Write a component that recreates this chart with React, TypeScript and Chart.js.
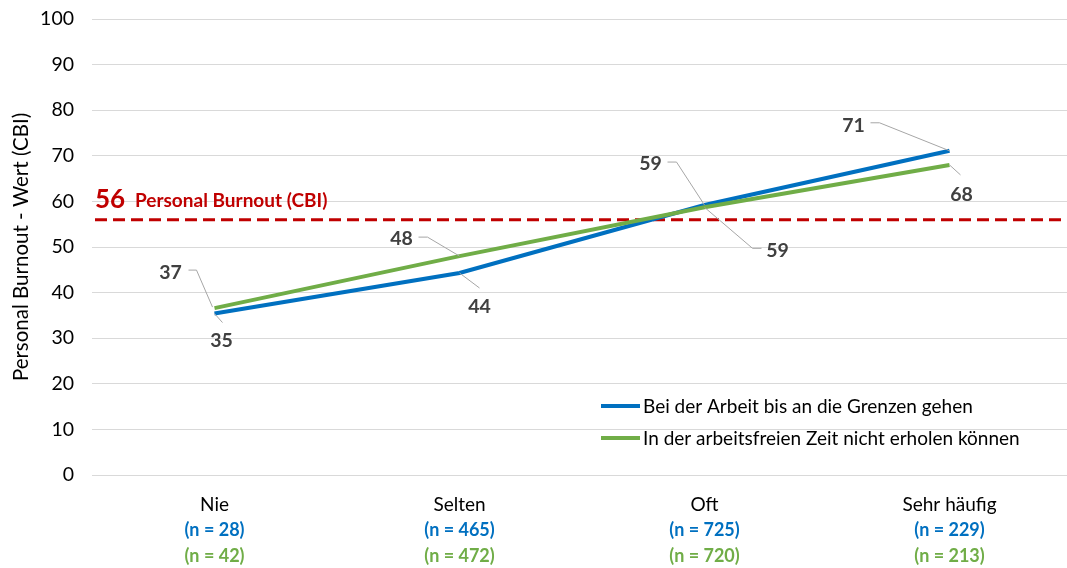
import React, { useEffect, useRef } from "react";
import { Chart, registerables } from "chart.js";
Chart.register(...registerables);

const CATEGORIES = ["Nie", "Selten", "Oft", "Sehr häufig"];
const SERIES_NAMES = [
  "Bei der Arbeit bis an die Grenzen gehen",
  "In der arbeitsfreien Zeit nicht erholen können",
];
const LIMITS_VALUES = [35.4, 44.3, 59.2, 71.1];
const RECOVERY_VALUES = [36.6, 48.0, 58.7, 68.0];
const LIMITS_N = [28, 465, 725, 229];
const RECOVERY_N = [42, 472, 720, 213];
const REFERENCE_VALUE = 56;
const REFERENCE_LABEL = "Personal Burnout (CBI)";
const Y_TITLE = "Personal Burnout - Wert (CBI)";
const Y_MIN = 0;
const Y_MAX = 100;
const Y_STEP = 10;

const BLUE = "#0070C0";
const GREEN = "#70AD47";
const RED = "#C00000";
const LABEL_GREY = "#404040";
const LEADER_GREY = "#A6A6A6";
const FONT = "Lato, 'Open Sans', sans-serif";

// Label placement (style): label centre offset and leader polyline relative to the data point, in px
const LABEL_LAYOUT = [
  [
    { dx: 7, dy: 26, leader: [[0, 0], [8, 9]] },
    { dx: 20, dy: 33, leader: [[0, 0], [20, 15]] },
    { dx: -54, dy: -42, leader: [[-37, -43], [-28, -43], [0, 0]] },
    { dx: -96, dy: -26, leader: [[-79, -28], [-70, -28], [0, 0]] },
  ],
  [
    { dx: -44, dy: -36, leader: [[-26, -38], [-18, -38], [-2, -1]] },
    { dx: -58, dy: -18, leader: [[-41, -19], [-32, -19], [0, 0]] },
    { dx: 73, dy: 43, leader: [[0, 0], [48, 41], [57, 41]] },
    { dx: 12, dy: 29, leader: [[0, 0], [11, 10]] },
  ],
];

const SERIES = [
  { name: SERIES_NAMES[0], values: LIMITS_VALUES, n: LIMITS_N, color: BLUE },
  { name: SERIES_NAMES[1], values: RECOVERY_VALUES, n: RECOVERY_N, color: GREEN },
];

const overlayPlugin = {
  id: "overlay",
  beforeDatasetsDraw(chart: any) {
    const { ctx, chartArea, scales } = chart;
    const y = scales.y.getPixelForValue(REFERENCE_VALUE);
    ctx.save();
    ctx.strokeStyle = RED;
    ctx.lineWidth = 3;
    ctx.setLineDash([12, 6]);
    ctx.beginPath();
    ctx.moveTo(chartArea.left + 3, y);
    ctx.lineTo(chartArea.right, y);
    ctx.stroke();
    ctx.setLineDash([]);
    ctx.fillStyle = RED;
    ctx.textAlign = "left";
    ctx.textBaseline = "alphabetic";
    ctx.font = `bold 26px ${FONT}`;
    ctx.fillText(String(REFERENCE_VALUE), chartArea.left + 3, y - 12);
    ctx.font = `bold 19px ${FONT}`;
    ctx.fillText(REFERENCE_LABEL, chartArea.left + 43, y - 13);
    ctx.restore();
  },
  afterDatasetsDraw(chart: any) {
    const { ctx, chartArea, scales } = chart;
    ctx.save();
    // leaders
    ctx.strokeStyle = LEADER_GREY;
    ctx.lineWidth = 1;
    SERIES.forEach((s, si) => {
      s.values.forEach((v, i) => {
        const px = scales.x.getPixelForValue(i);
        const py = scales.y.getPixelForValue(v);
        const lay = LABEL_LAYOUT[si][i];
        ctx.beginPath();
        lay.leader.forEach(([dx, dy], k) => {
          if (k === 0) ctx.moveTo(px + dx, py + dy);
          else ctx.lineTo(px + dx, py + dy);
        });
        ctx.stroke();
      });
    });
    // value labels
    ctx.fillStyle = LABEL_GREY;
    ctx.font = `bold 19.5px ${FONT}`;
    ctx.textAlign = "center";
    ctx.textBaseline = "alphabetic";
    SERIES.forEach((s, si) => {
      s.values.forEach((v, i) => {
        const px = scales.x.getPixelForValue(i);
        const py = scales.y.getPixelForValue(v);
        const lay = LABEL_LAYOUT[si][i];
        ctx.fillText(String(Math.round(v)), px + lay.dx, py + lay.dy + 7);
      });
    });
    // legend
    const lx = chartArea.left + 509;
    const rows = [chartArea.top + 387, chartArea.top + 419];
    SERIES.forEach((s, si) => {
      ctx.strokeStyle = s.color;
      ctx.lineWidth = 4;
      ctx.beginPath();
      ctx.moveTo(lx, rows[si]);
      ctx.lineTo(lx + 39, rows[si]);
      ctx.stroke();
      ctx.fillStyle = "#000";
      ctx.font = `19px ${FONT}`;
      ctx.textAlign = "left";
      ctx.fillText(s.name, lx + 42, rows[si] + 7);
    });
    // category labels with n
    CATEGORIES.forEach((c, i) => {
      const x = scales.x.getPixelForValue(i);
      ctx.textAlign = "center";
      ctx.fillStyle = "#000";
      ctx.font = `19px ${FONT}`;
      ctx.fillText(c, x, chartArea.bottom + 36);
      ctx.font = `bold 18px ${FONT}`;
      ctx.fillStyle = BLUE;
      ctx.fillText(`(n = ${LIMITS_N[i]})`, x, chartArea.bottom + 61);
      ctx.fillStyle = GREEN;
      ctx.fillText(`(n = ${RECOVERY_N[i]})`, x, chartArea.bottom + 87);
    });
    ctx.restore();
  },
};

export default function App() {
  const ref = useRef<HTMLCanvasElement>(null);
  useEffect(() => {
    if (!ref.current) return;
    const chart = new Chart(ref.current, {
      type: "line",
      data: {
        labels: CATEGORIES,
        datasets: SERIES.map((s, si) => ({
          label: s.name,
          data: s.values,
          borderColor: s.color,
          backgroundColor: s.color,
          borderWidth: 4,
          pointRadius: 0,
          tension: 0,
          order: si === 1 ? 0 : 1,
        })),
      },
      options: {
        responsive: false,
        animation: false,
        layout: { padding: { top: 19, left: 0, right: 0, bottom: 0 } },
        plugins: { legend: { display: false }, tooltip: { enabled: false } },
        scales: {
          x: {
            type: "category",
            offset: true,
            grid: { display: false },
            border: { display: false },
            ticks: { display: false },
            afterFit: (s: any) => {
              s.height = 93;
              s.paddingLeft = 0;
              s.paddingRight = 0;
              s.paddingTop = 0;
              s.paddingBottom = 0;
            },
          },
          y: {
            min: Y_MIN,
            max: Y_MAX,
            ticks: {
              stepSize: Y_STEP,
              color: "#000",
              font: { family: FONT, size: 19.5 },
              padding: 18,
            },
            grid: { color: "#D9D9D9", lineWidth: 1, drawTicks: false },
            border: { display: false },
            title: {
              display: true,
              text: Y_TITLE,
              color: "#000",
              font: { family: FONT, size: 20.5 },
              padding: { top: 9, bottom: 0 },
            },
            afterFit: (s: any) => {
              s.width = 92;
              s.paddingTop = 0;
              s.paddingBottom = 0;
              s.paddingLeft = 0;
              s.paddingRight = 0;
            },
          },
        },
      },
      plugins: [overlayPlugin],
    });
    return () => chart.destroy();
  }, []);
  return (
    <div style={{ position: "fixed", left: 0, top: 0, width: 1072, height: 568, overflow: "hidden", background: "#fff" }}>
      <canvas ref={ref} width={1072} height={568} style={{ display: "block" }} />
    </div>
  );
}
